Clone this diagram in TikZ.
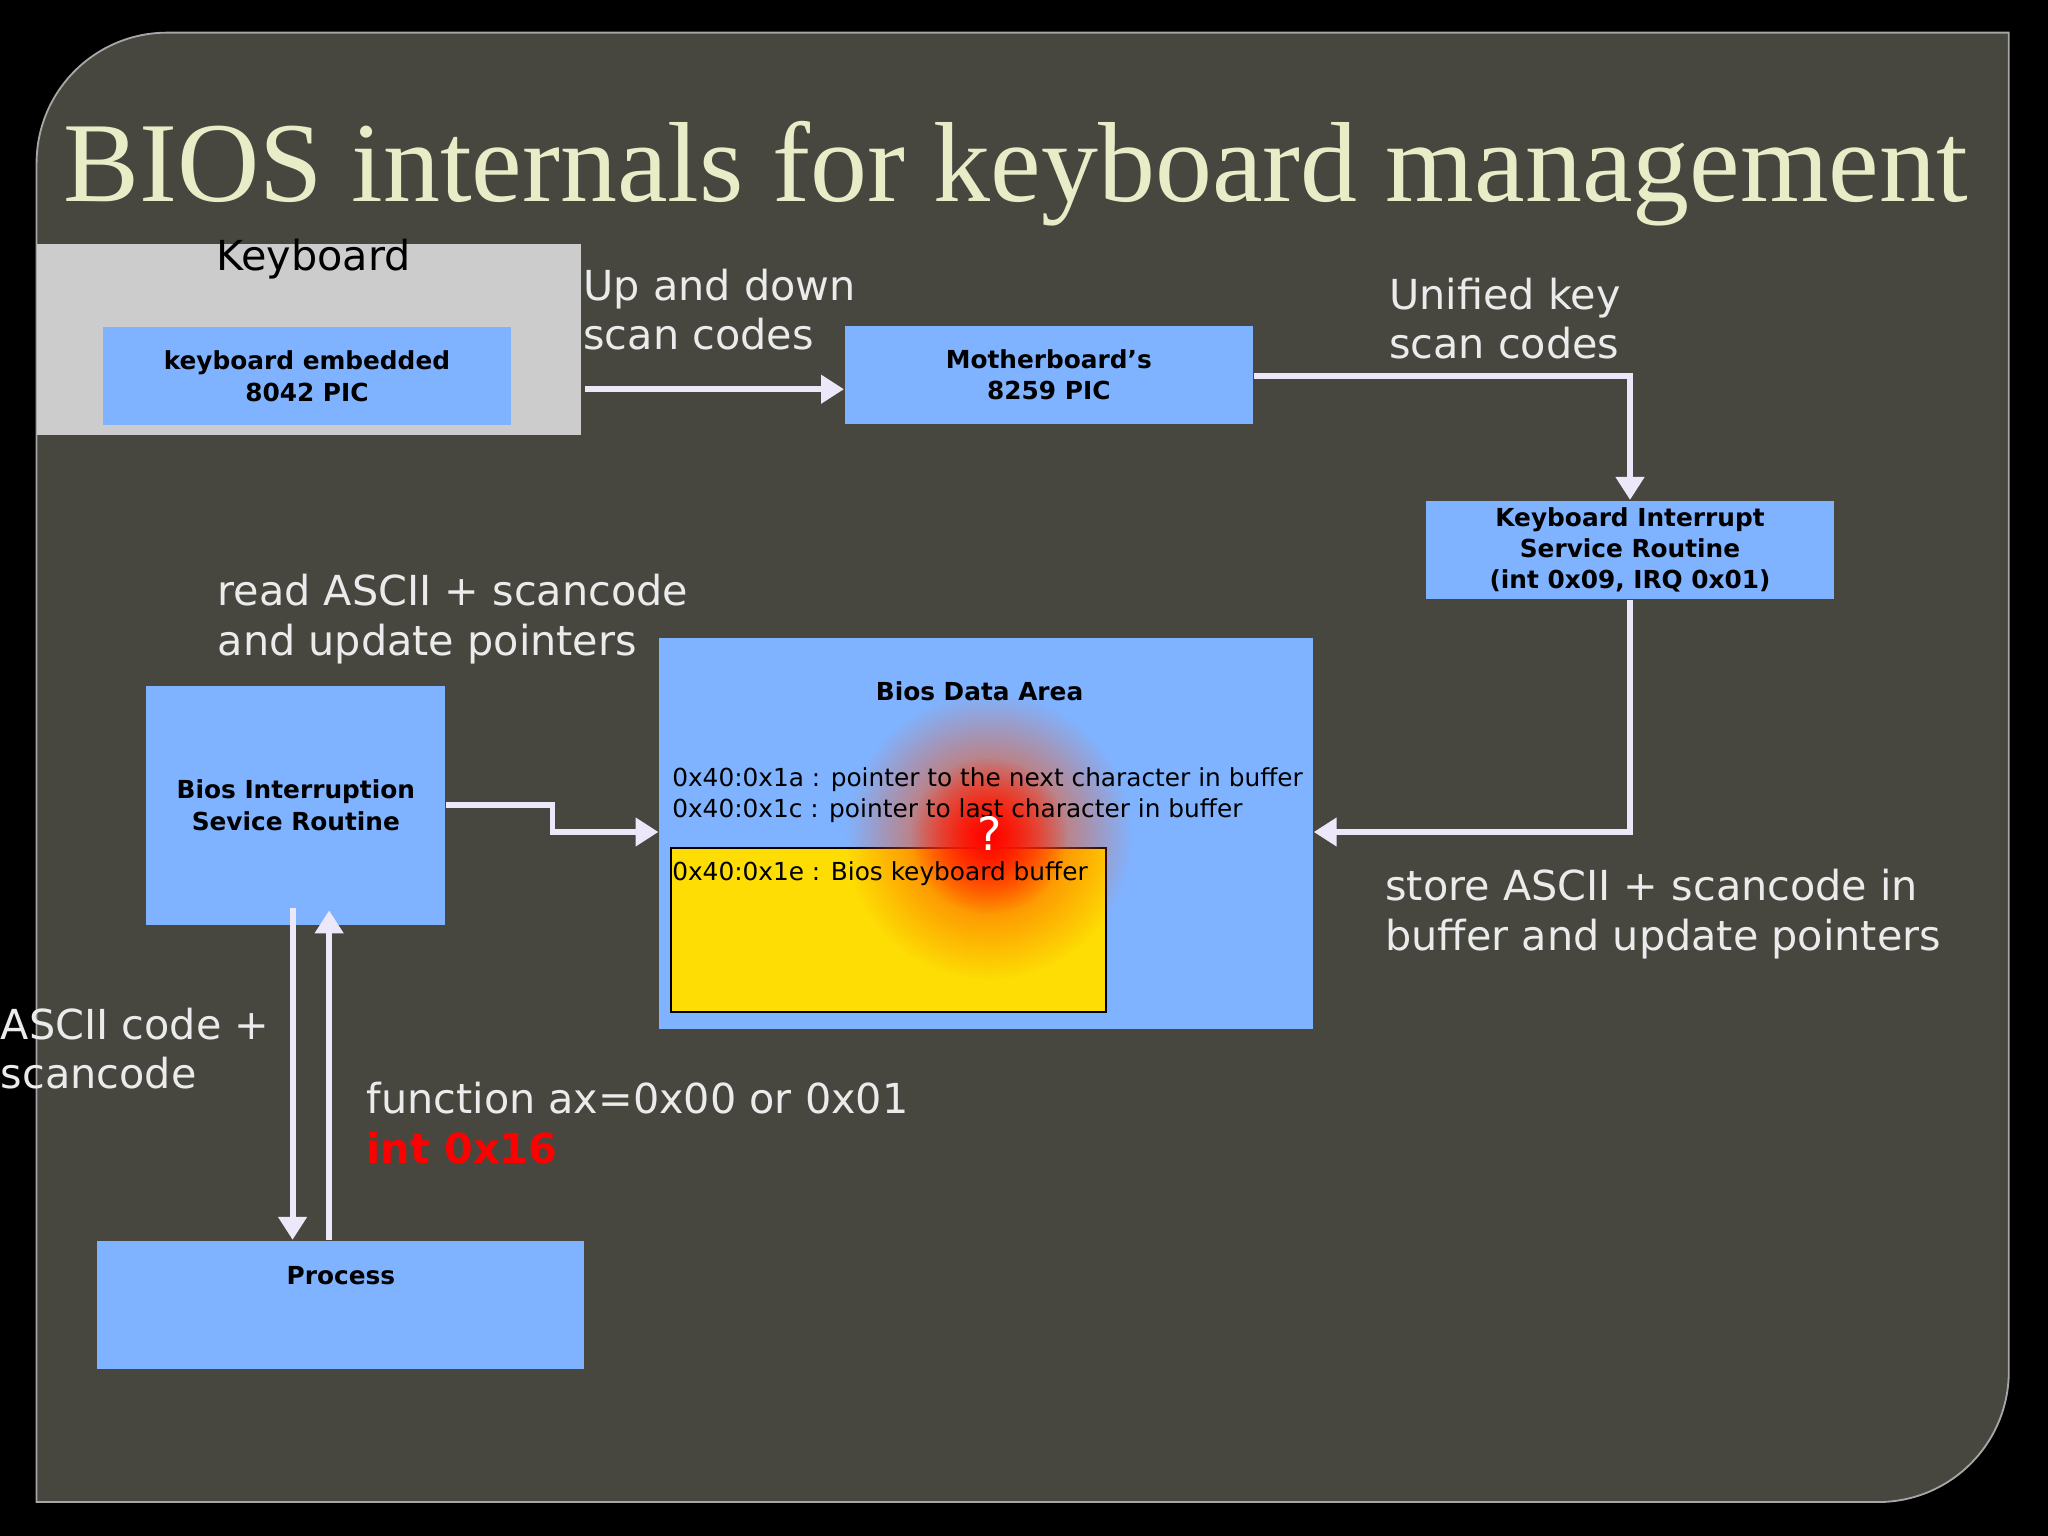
\documentclass[tikz,border=0pt]{standalone}
\usepackage{fontspec}
\setmainfont{DejaVu Sans}
\newfontfamily\titlefont{Liberation Serif}
\usetikzlibrary{fadings,arrows.meta}
\definecolor{bg}{HTML}{474740}
\definecolor{boxblue}{HTML}{80B3FF}
\definecolor{arr}{HTML}{ECE8FA}
\definecolor{titlec}{HTML}{E8EDC8}
\tikzfading[name=glow, inner color=transparent!0, outer color=transparent!100]
\begin{document}
\begin{tikzpicture}[x=0.01cm,y=-0.01cm,
  box/.style={fill=boxblue,draw=none,inner sep=0pt,font=\fontsize{5.4}{6.8}\selectfont\bfseries,align=center,text=black},
  lbl/.style={text=white!92!black,font=\fontsize{9}{10.8}\selectfont,align=left,anchor=north west,inner sep=0pt},
  bdt/.style={anchor=west,inner sep=0pt,font=\fontsize{5.4}{6.5}\selectfont,text=black},
  conn/.style={draw=arr,line width=1.3pt,-{Triangle[length=5pt,width=6pt]}}]
\fill[black] (0,0) rectangle (1568,1176);
\useasboundingbox (0,0) rectangle (1568,1176);
\draw[fill=bg,draw=gray!70] (28,1150) -- (28,125) arc[start angle=180,end angle=270,radius=100] -- (1538,25) -- (1538,1050) arc[start angle=0,end angle=90,radius=100] -- cycle;
\node[anchor=base west,text=titlec,font=\titlefont\fontsize{24.8}{27}\selectfont,inner sep=0pt] (title) at (48,154) {BIOS internals for keyboard management};
% keyboard
\fill[gray!40] (28,187) rectangle (445,333);
\node[font=\fontsize{9}{11}\selectfont,text=black,inner sep=0pt] (kbl) at (240,198) {Keyboard};
\node[box,minimum width=3.12cm,minimum height=0.75cm] (k8042) at (235,288) {keyboard embedded\\8042 PIC};
\node[box,minimum width=3.12cm,minimum height=0.75cm] (mb) at (803,287) {Motherboard's\\8259 PIC};
\node[box,minimum width=3.12cm,minimum height=0.75cm] (kisr) at (1248,421) {Keyboard Interrupt\\Service Routine\\(int 0x09, IRQ 0x01)};
\node[box,minimum width=5cm,minimum height=2.99cm] (bda) at (755,638) {};
\node[box,inner sep=0pt] (bdat) at (750,529) {Bios Data Area};
\node[draw=black,fill=yellow!80!orange,minimum width=3.33cm,minimum height=1.26cm,inner sep=0pt] (buf) at (680.5,712) {};
\fill[orange!60!red,path fading=glow] (757,640) circle (110);
\fill[red,path fading=glow] (757,640) circle (60);
\node[bdt] (l1) at (514,597) {0x40:0x1a : pointer to the next character in buffer};
\node[bdt] (l2) at (514,621) {0x40:0x1c : pointer to last character in buffer};
\node[bdt] (l3) at (514,669) {0x40:0x1e : Bios keyboard buffer};
\node[text=white,font=\fontsize{10}{12}\selectfont,inner sep=0pt] (q) at (758,638) {?};
\node[box,minimum width=2.29cm,minimum height=1.83cm] (bisr) at (226.5,616.5) {Bios Interruption\\Sevice Routine};
\node[box,minimum width=3.73cm,minimum height=0.98cm] (proc) at (260.5,999) {};
\node[box,inner sep=0pt] (proct) at (261,977) {Process};
% connectors
\draw[conn] (448,298) -- (mb.west |- 0,298);
\draw[conn] (mb.east |- 0,288) -| (kisr.north);
\draw[conn] (kisr.south) |- (bda.east |- 0,637);
\draw[conn] (bisr.east |- 0,616) -- (423,616) |- (bda.west |- 0,637);
\draw[conn] (224,695) -- (proc.north -| 224,0);
\draw[conn] (proc.north -| 252,0) -- (252,697);
% labels
\node[lbl] (t1) at (446,205) {Up and down\\scan codes};
\node[lbl] (t2) at (1063,212) {Unified key\\scan codes};
\node[lbl] (t3) at (1060,665) {store ASCII + scancode in\\buffer and update pointers};
\node[lbl] (t4) at (166,439) {read ASCII + scancode\\and update pointers};
\node[lbl] (t5) at (0,771) {ASCII code +\\scancode};
\node[lbl] (t6) at (280,828) {function ax=0x00 or 0x01\\\textcolor{red}{\bfseries int 0x16}};
\end{tikzpicture}
\end{document}
